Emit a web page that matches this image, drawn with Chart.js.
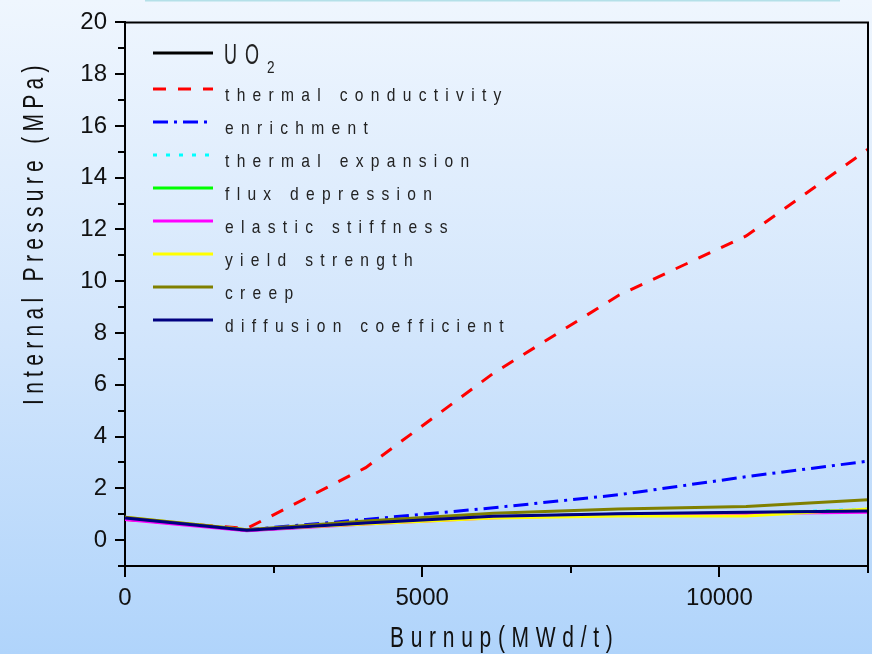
<!DOCTYPE html>
<html><head><meta charset="utf-8">
<script src="https://cdn.jsdelivr.net/npm/chart.js@4/dist/chart.umd.min.js"></script>
<style>html,body{margin:0;padding:0;overflow:hidden;background:#d4e6fc}#wrap{width:872px;height:654px;position:relative}</style>
</head><body><div id="wrap"><canvas id="c" width="872" height="654"></canvas></div>
<script>
// ---- data ----
const burnup = [0, 2050, 4050, 6200, 8300, 10450, 12500];
const uo2          = [0.85, 0.38, 0.64, 0.90, 1.00, 1.05, 1.12];
const thermCond    = [0.80, 0.45, 2.80, 6.45, 9.45, 11.75, 15.10];
const enrichment   = [0.82, 0.40, 0.80, 1.25, 1.75, 2.45, 3.05];
const thermExp     = [0.85, 0.38, 0.64, 0.88, 0.98, 1.02, 1.20];
const fluxDep      = [0.85, 0.38, 0.64, 0.88, 0.99, 1.04, 1.15];
const elastic      = [0.80, 0.36, 0.62, 0.86, 0.98, 1.03, 1.08];
const yieldStr     = [0.88, 0.40, 0.62, 0.85, 0.93, 0.93, 1.20];
const creep        = [0.88, 0.40, 0.74, 1.04, 1.20, 1.30, 1.56];
const diffusion    = [0.85, 0.38, 0.66, 0.92, 1.02, 1.08, 1.12];
const seriesNames  = ['UO2', 'thermal conductivity', 'enrichment', 'thermal expansion', 'flux depression',
                      'elastic stiffness', 'yield strength', 'creep', 'diffusion coefficient'];
const yMajorTicks = [0, 2, 4, 6, 8, 10, 12, 14, 16, 18, 20];
const yMinorTicks = [-1, 1, 3, 5, 7, 9, 11, 13, 15, 17, 19];
const xMajorTicks = [0, 5000, 10000];
const xMinorTicks = [2500, 7500, 12500];
const xTitle = 'Burnup(MWd/t)';
const yTitle = 'Internal Pressure (MPa)';

const seriesValues = [uo2, thermCond, enrichment, thermExp, fluxDep, elastic, yieldStr, creep, diffusion];
const seriesColors = ['#000000', '#ff0000', '#0000ff', '#00ffff', '#00ff00', '#ff00ff', '#ffff00', '#808000', '#000080'];
const seriesDash = [[], [13, 12], [15, 6, 3, 6], [4, 9], [], [], [], [], []];

const FONT = '"Liberation Sans", Arial, sans-serif';

function spaced(ctx, text, x, y, size, sx, gap) {
  ctx.font = size + 'px ' + FONT;
  for (const ch of text) {
    ctx.save(); ctx.translate(x, y); ctx.scale(sx, 1); ctx.fillText(ch, 0, 0); ctx.restore();
    x += ctx.measureText(ch).width * sx + gap;
  }
  return x;
}

const decor = {
  id: 'decor',
  beforeDraw(chart) {
    const ctx = chart.ctx, W = chart.width, H = chart.height;
    ctx.save();
    const g = ctx.createLinearGradient(0, 0, 0, H);
    g.addColorStop(0, '#eff6fe');
    g.addColorStop(0.5, '#d3e6fc');
    g.addColorStop(1, '#b0d4fb');
    ctx.fillStyle = g;
    ctx.fillRect(0, 0, W, H);
    ctx.fillStyle = '#b4e0e8';
    ctx.fillRect(145, 0, 695, 1.5);
    ctx.restore();
  },
  afterDraw(chart) {
    const ctx = chart.ctx, a = chart.chartArea;
    const xs = chart.scales.x, ys = chart.scales.y;
    ctx.save();
    ctx.strokeStyle = '#000'; ctx.lineWidth = 2;
    // top & right frame
    ctx.beginPath();
    ctx.moveTo(a.left, a.top); ctx.lineTo(a.right, a.top); ctx.lineTo(a.right, a.bottom);
    ctx.stroke();
    // minor ticks
    ctx.beginPath();
    for (const v of yMinorTicks) { const p = Math.round(ys.getPixelForValue(v)); ctx.moveTo(a.left - 7, p); ctx.lineTo(a.left, p); }
    for (const v of xMinorTicks) { const p = Math.round(xs.getPixelForValue(v)); ctx.moveTo(p, a.bottom); ctx.lineTo(p, a.bottom + 7); }
    ctx.stroke();
    // legend
    ctx.fillStyle = '#222';
    ctx.textBaseline = 'alphabetic';
    ctx.textAlign = 'left';
    seriesNames.forEach((name, i) => {
      const ly = i === 0 ? 53 : 89 + 33 * (i - 1);
      ctx.save();
      ctx.strokeStyle = seriesColors[i]; ctx.lineWidth = 3; ctx.setLineDash(seriesDash[i]);
      ctx.beginPath(); ctx.moveTo(153, ly); ctx.lineTo(213, ly); ctx.stroke();
      ctx.restore();
      if (i === 0) {
        spaced(ctx, 'UO', 224, ly + 11, 29, 0.62, 8);
        spaced(ctx, '2', 267, ly + 20, 17, 0.8, 0);
      } else {
        spaced(ctx, name, 225, ly + 11.5, 19, 0.82, 7.3);
      }
    });
    // axis titles
    ctx.fillStyle = '#111';
    spaced(ctx, xTitle, 390, 647, 30, 0.7, 6.7);
    ctx.save();
    ctx.translate(43, 405); ctx.rotate(-Math.PI / 2);
    spaced(ctx, yTitle, 0, 0, 30, 0.7, 5.3);
    ctx.restore();
    ctx.restore();
  }
};

const datasets = seriesValues.map((vals, i) => ({
  label: seriesNames[i],
  data: burnup.map((b, k) => ({ x: b, y: vals[k] })),
  borderColor: seriesColors[i],
  borderWidth: 3,
  borderDash: seriesDash[i],
  pointRadius: 0,
  tension: 0,
  fill: false,
  order: seriesNames.length - i
}));

new Chart(document.getElementById('c'), {
  type: 'line',
  data: { datasets },
  plugins: [decor],
  options: {
    responsive: false,
    animation: false,
    devicePixelRatio: 1,
    layout: { padding: { top: 17, right: 4, left: 0, bottom: 0 } },
    plugins: { legend: { display: false }, tooltip: { enabled: false }, title: { display: false } },
    scales: {
      x: {
        type: 'linear', min: 0, max: 12500,
        afterFit(s) { s.height = 88; },
        afterBuildTicks(s) { s.ticks = xMajorTicks.map(v => ({ value: v })); },
        grid: { drawOnChartArea: false, color: '#000', lineWidth: 2, tickLength: 11 },
        border: { color: '#000', width: 2 },
        ticks: { color: '#111', font: { family: FONT, size: 24 }, padding: 7, maxRotation: 0, autoSkip: false,
                 callback: v => String(v) }
      },
      y: {
        type: 'linear', min: -1, max: 20,
        afterFit(s) { s.width = 125; },
        afterBuildTicks(s) { s.ticks = yMajorTicks.map(v => ({ value: v })); },
        grid: { drawOnChartArea: false, color: '#000', lineWidth: 2, tickLength: 10 },
        border: { color: '#000', width: 2 },
        ticks: { color: '#111', font: { family: FONT, size: 24 }, padding: 8, autoSkip: false,
                 callback: v => String(v) }
      }
    }
  }
});
</script></body></html>
